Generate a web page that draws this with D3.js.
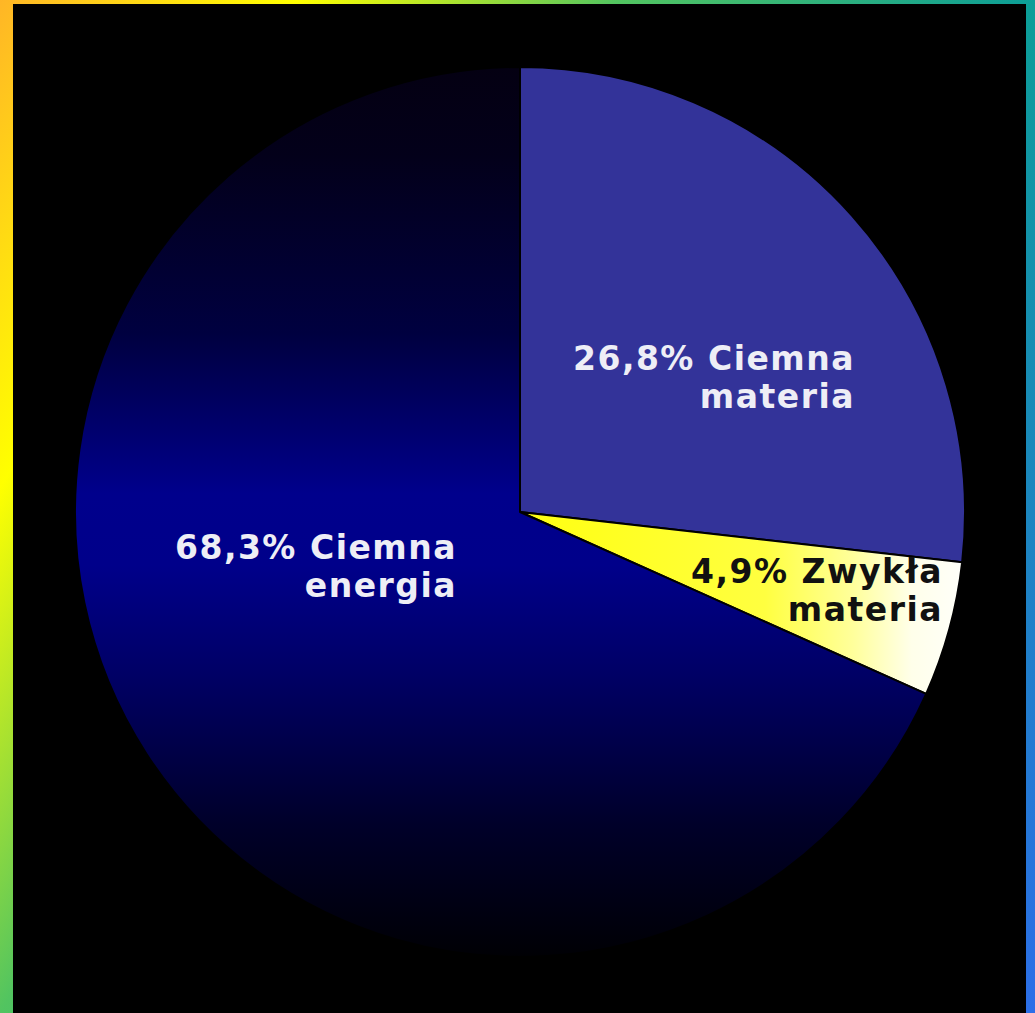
<!DOCTYPE html>
<html>
<head>
<meta charset="utf-8">
<script src="https://cdn.jsdelivr.net/npm/d3@7"></script>
<style>
  html, body { margin: 0; padding: 0; background: #000; }
  svg { display: block; }
</style>
</head>
<body>
<svg id="chart" width="1035" height="1013"></svg>
<script>
// Skład Wszechświata – udział procentowy
const categories = ["Ciemna materia", "Zwykła materia", "Ciemna energia"];
const values = [26.8, 4.9, 68.3];
const labelLines = [
  ["26,8% Ciemna", "materia"],
  ["4,9% Zwykła", "materia"],
  ["68,3% Ciemna", "energia"]
];

const W = 1035, H = 1013;
const cx = 520, cy = 512, R = 445;

// label anchors (right edge, first baseline), relative to the pie centre
const labelAnchor = [[335, -142], [423, 71], [-63, 47]];
const lineGap = 38;

const svg = d3.select("#chart");
const defs = svg.append("defs");

// frame gradient (orange → yellow → green → teal → blue)
const frameGrad = defs.append("linearGradient")
  .attr("id", "frameGrad")
  .attr("gradientUnits", "userSpaceOnUse")
  .attr("x1", 0).attr("y1", 0).attr("x2", 1204).attr("y2", 735);
[[0, "#ffb626"], [0.18, "#ffff00"], [0.374, "#52c460"], [0.626, "#0c9e98"], [1, "#2c6ee8"]]
  .forEach(([o, c]) => frameGrad.append("stop").attr("offset", o).attr("stop-color", c));

// dark energy: vertical fade, brightest around the middle (pie-local coordinates)
const deGrad = defs.append("linearGradient")
  .attr("id", "deGrad")
  .attr("gradientUnits", "userSpaceOnUse")
  .attr("x1", 0).attr("y1", -R).attr("x2", 0).attr("y2", R);
[[0, "#040012"], [0.1, "#03001a"], [0.3, "#000040"], [0.48, "#00008c"], [0.56, "#00008a"], [0.68, "#000066"], [0.85, "#00002a"], [1, "#000004"]]
  .forEach(([o, c]) => deGrad.append("stop").attr("offset", o).attr("stop-color", c));

// ordinary matter: yellow near the centre, white toward the rim
const omGrad = defs.append("linearGradient")
  .attr("id", "omGrad")
  .attr("gradientUnits", "userSpaceOnUse")
  .attr("x1", 0).attr("y1", 0).attr("x2", R).attr("y2", 0);
[[0, "#ffff10"], [0.55, "#ffff40"], [0.75, "#ffff9c"], [0.88, "#ffffea"], [1, "#fffffa"]]
  .forEach(([o, c]) => omGrad.append("stop").attr("offset", o).attr("stop-color", c));

// frame
svg.append("rect").attr("x", 0).attr("y", 0).attr("width", W).attr("height", H)
  .attr("fill", "url(#frameGrad)");
svg.append("rect").attr("x", 13).attr("y", 4).attr("width", 1026 - 13).attr("height", H - 4)
  .attr("fill", "#000");

const fills = ["#333399", "url(#omGrad)", "url(#deGrad)"];
const textColors = ["#eeeef6", "#111111", "#eeeef6"];

const pie = d3.pie().sort(null).value(d => d)(values);
const arc = d3.arc().innerRadius(0).outerRadius(R);

const g = svg.append("g").attr("transform", `translate(${cx},${cy})`);

g.selectAll("path.slice")
  .data(pie)
  .join("path")
  .attr("class", "slice")
  .attr("d", arc)
  .attr("fill", (d, i) => fills[i])
  .attr("stroke", "#000")
  .attr("stroke-width", 2)
  .attr("stroke-linejoin", "round");

// right-aligned two-line labels
pie.forEach((d, i) => {
  const [px, py] = labelAnchor[i];
  const t = g.append("text")
    .attr("text-anchor", "end")
    .attr("font-family", "DejaVu Sans, Verdana, sans-serif")
    .attr("font-weight", "bold")
    .attr("font-size", 33)
    .attr("letter-spacing", 1.5)
    .attr("fill", textColors[i]);
  labelLines[i].forEach((line, k) => {
    t.append("tspan")
      .attr("x", px)
      .attr("y", py + k * lineGap)
      .text(line);
  });
});
</script>
</body>
</html>
